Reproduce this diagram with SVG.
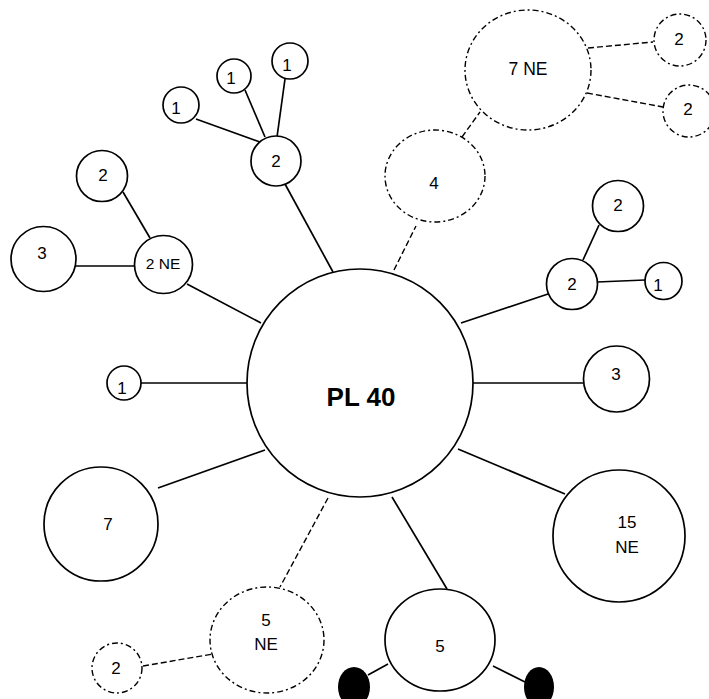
<svg xmlns="http://www.w3.org/2000/svg" width="709" height="699" viewBox="0 0 709 699">
<style>
.n{fill:#fff;stroke:#000;stroke-width:1.7}
.d{fill:#fff;stroke:#000;stroke-width:1.4;stroke-dasharray:6 3 2 3}
.l{stroke:#000;stroke-width:1.7;fill:none}
.dl{stroke:#000;stroke-width:1.4;fill:none;stroke-dasharray:6 3}
text{font-family:"Liberation Sans",Arial,sans-serif;font-size:17px;text-anchor:middle;fill:#000}
.s{font-size:15.5px}
.m{font-size:17.5px}
.b{font-size:26px;font-weight:bold}
</style>
<rect width="709" height="699" fill="#fff"/>
<g id="connectors">
<line class="l" x1="333" y1="272" x2="285" y2="184"/>
<line class="l" x1="196" y1="119" x2="260" y2="142"/>
<line class="l" x1="245" y1="90" x2="265" y2="137"/>
<line class="l" x1="285" y1="79" x2="277" y2="137"/>
<line class="l" x1="123" y1="192" x2="150" y2="238"/>
<line class="l" x1="76" y1="266" x2="135" y2="266"/>
<line class="l" x1="187" y1="284" x2="261" y2="323"/>
<line class="l" x1="141" y1="383" x2="247" y2="383"/>
<line class="l" x1="158" y1="488" x2="265" y2="450"/>
<line class="l" x1="599" y1="225" x2="583" y2="260"/>
<line class="l" x1="597" y1="282" x2="645" y2="280"/>
<line class="l" x1="548" y1="294" x2="461" y2="323"/>
<line class="l" x1="473" y1="383" x2="583" y2="383"/>
<line class="l" x1="458" y1="449" x2="565" y2="494"/>
<line class="l" x1="392" y1="497" x2="447" y2="589"/>
<line class="l" x1="368" y1="675" x2="388" y2="664"/>
<line class="l" x1="493" y1="666" x2="525" y2="682"/>
<line class="dl" x1="328" y1="498" x2="280" y2="587"/>
<line class="dl" x1="143" y1="666" x2="213" y2="654"/>
<line class="dl" x1="394" y1="270" x2="416" y2="226"/>
<line class="dl" x1="462" y1="137" x2="480" y2="112"/>
<line class="dl" x1="588" y1="48" x2="653" y2="42"/>
<line class="dl" x1="587" y1="93" x2="663" y2="107"/>
</g>
<g id="pl40"><ellipse class="n" cx="360" cy="383" rx="113" ry="114"/><text class="b" x="361" y="406">PL 40</text></g>
<g id="n2top"><circle class="n" cx="276" cy="161" r="25"/><text x="276" y="167">2</text></g>
<g id="n1a"><circle class="n" cx="181" cy="105" r="18"/><text x="176" y="114">1</text></g>
<g id="n1b"><circle class="n" cx="234" cy="76" r="17"/><text x="231" y="84">1</text></g>
<g id="n1c"><circle class="n" cx="290" cy="61" r="18"/><text x="287" y="71">1</text></g>
<g id="n2left"><circle class="n" cx="102" cy="176" r="25.5"/><text x="103" y="181">2</text></g>
<g id="n3left"><circle class="n" cx="43.5" cy="259" r="32.5"/><text x="42" y="259">3</text></g>
<g id="n2ne"><circle class="n" cx="163.5" cy="264.5" r="29"/><text class="s" x="163" y="269">2 NE</text></g>
<g id="n1left"><circle class="n" cx="124" cy="383" r="17"/><text x="122" y="394">1</text></g>
<g id="n7"><circle class="n" cx="101" cy="524" r="57"/><text x="108" y="529.5">7</text></g>
<g id="n2r1"><circle class="n" cx="618" cy="206" r="25.5"/><text x="618" y="210.5">2</text></g>
<g id="n2r2"><circle class="n" cx="572" cy="284" r="25.5"/><text x="572" y="290">2</text></g>
<g id="n1r"><circle class="n" cx="663.5" cy="281" r="18.5"/><text x="658" y="291">1</text></g>
<g id="n3r"><circle class="n" cx="616.5" cy="379" r="33"/><text x="616" y="379.5">3</text></g>
<g id="n15ne"><circle class="n" cx="619" cy="536" r="66"/><text x="627" y="528">15</text><text x="627" y="553">NE</text></g>
<g id="n5"><ellipse class="n" cx="440" cy="640" rx="55" ry="51"/><text x="440" y="652">5</text></g>
<g id="dotL"><ellipse cx="354" cy="687" rx="16" ry="20" fill="#000"/></g>
<g id="dotR"><ellipse cx="539" cy="687" rx="15" ry="20" fill="#000"/></g>
<g id="n5ne"><ellipse class="d" cx="267" cy="640" rx="57" ry="53"/><text x="266" y="626">5</text><text x="266" y="649.5">NE</text></g>
<g id="n2bl"><circle class="d" cx="117" cy="668" r="25"/><text x="116" y="673.5">2</text></g>
<g id="n4"><ellipse class="d" cx="435" cy="176" rx="50" ry="46"/><text x="434" y="189">4</text></g>
<g id="n7ne"><ellipse class="d" cx="528" cy="70" rx="63" ry="60"/><text class="m" x="528" y="74.5">7 NE</text></g>
<g id="n2tr"><circle class="d" cx="680" cy="40" r="26"/><text x="679" y="45">2</text></g>
<g id="n2tr2"><circle class="d" cx="689" cy="111" r="26"/><text x="688" y="114.5">2</text></g>
</svg>
